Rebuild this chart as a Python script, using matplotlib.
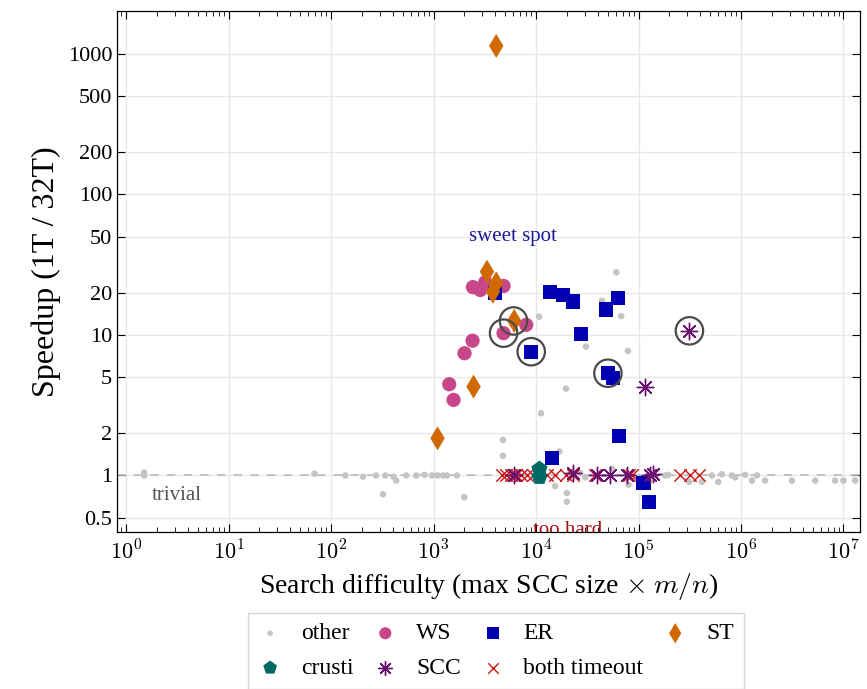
import matplotlib
matplotlib.use("Agg")
import matplotlib.pyplot as plt
import matplotlib.ticker as mticker
import numpy as np

plt.rcParams['font.family'] = ['Liberation Serif', 'DejaVu Serif']
plt.rcParams['mathtext.fontset'] = 'cm'

# ---------------- data ----------------
other_x = [1.5, 1.5, 69, 138, 205, 274, 338, 407, 433, 542, 678, 817, 965, 1094, 1236, 1352, 1692,
           321, 1994, 4750, 4750, 15400, 20000, 20000, 16900,
           60700, 10700, 44000, 67800, 30700, 78800, 19600, 11200,
           30200, 27000, 55000, 80000, 182000, 195000, 312000,
           415000, 520000, 650000, 600000, 815000, 880000, 1.1e6, 1.28e6, 1.43e6, 1.72e6,
           3.14e6, 5.3e6, 8.3e6, 1.0e7, 1.3e7]
other_y = [1.0, 1.05, 1.03, 1.0, 0.98, 1.0, 1.0, 0.98, 0.92, 1.0, 1.0, 1.01, 1.0, 1.0, 1.0, 1.0, 1.0,
           0.735, 0.70, 1.79, 1.38, 0.84, 0.75, 0.65, 1.48,
           27.9, 13.5, 17.5, 13.6, 8.26, 7.69, 4.15, 2.77,
           0.97, 1.04, 1.12, 0.86, 1.0, 1.01, 0.90,
           0.90, 1.0, 1.02, 0.90, 1.0, 0.97, 1.01, 0.92, 1.0, 0.92,
           0.92, 0.92, 0.92, 0.92, 0.92]

ws_x = [2423, 2857, 3194, 4820, 4820, 8020, 2401, 2006, 1422, 1567]
ws_y = [21.9, 20.9, 23.7, 22.3, 10.3, 11.8, 9.1, 7.41, 4.46, 3.45]

er_x = [4000, 13760, 18300, 22900, 48400, 62900, 27400, 8980, 50300, 56300, 64800, 14300, 112000, 126300]
er_y = [19.8, 20.3, 19.3, 17.3, 15.2, 18.4, 10.1, 7.6, 5.34, 4.92, 1.91, 1.33, 0.889, 0.651]

st_x = [4090, 3319, 4090, 3795, 6125, 2456, 1094]
st_y = [1140, 28.2, 23.3, 20.3, 12.6, 4.29, 1.84]

crusti_x = [10800, 10800]
crusti_y = [1.11, 0.975]

scc_x = [314000, 114500, 6130, 23200, 39300, 53000, 77100, 130000, 140000]
scc_y = [10.7, 4.29, 1.0, 1.04, 1.0, 1.0, 1.0, 1.0, 1.02]

both_x = [4680, 5120, 5730, 6410, 7180, 8210, 9390, 12860, 15400, 19700, 23100, 37800,
          81300, 87000, 256000, 320000, 392000]
both_y = [1.0] * len(both_x)

ring_x = [6030, 4820, 8980, 50300, 314000]
ring_y = [12.58, 10.3, 7.6, 5.34, 10.7]

xtick_vals = [1, 10, 100, 1000, 1e4, 1e5, 1e6, 1e7]
xtick_labels = [r'$10^{0}$', r'$10^{1}$', r'$10^{2}$', r'$10^{3}$', r'$10^{4}$', r'$10^{5}$', r'$10^{6}$', r'$10^{7}$']
ytick_vals = [0.5, 1, 2, 5, 10, 20, 50, 100, 200, 500, 1000]
ytick_labels = ['0.5', '1', '2', '5', '10', '20', '50', '100', '200', '500', '1000']

# ---------------- figure ----------------
fig = plt.figure(figsize=(8.67, 6.89), dpi=100)
ax = fig.add_axes([117/867, 1 - 531.7/689, (860-117)/867, (531.7-11)/689])
ax.set_xscale('log')
ax.set_yscale('log')

ax.grid(True, which='major', color='#e8e8e8', lw=1.0, zorder=0)
ax.set_axisbelow(True)

ax.axhline(1.0, color='#bbbbbb', lw=1.2, ls=(0, (5, 5)), zorder=1)

c_other = '#c4c4c4'
c_ws = '#c8478a'
c_er = '#0000b0'
c_st = '#d06a00'
c_crusti = '#006b66'
c_scc = '#6a1070'
c_both = '#cc1111'

h_other = ax.scatter(other_x, other_y, s=22, color=c_other, edgecolors='none', zorder=2, label='other')
h_both = ax.scatter(both_x, both_y, s=80, marker='x', color=c_both, linewidths=1.0, zorder=3, label='both timeout')
h_ws = ax.scatter(ws_x, ws_y, s=105, marker='o', color=c_ws, edgecolors='none', zorder=4, label='WS')
h_er = ax.scatter(er_x, er_y, s=105, marker='s', color=c_er, edgecolors='none', zorder=4, label='ER')
h_st = ax.scatter(st_x, st_y, s=150, marker='d', color=c_st, edgecolors='none', zorder=5, label='ST')
h_crusti = ax.scatter(crusti_x, crusti_y, s=150, marker='p', color=c_crusti, edgecolors='none', zorder=4, label='crusti')
h_scc = ax.scatter(scc_x, scc_y, s=140, marker=(8, 2, 0), color=c_scc, linewidths=1.0, zorder=5, label='SCC')
ax.scatter(ring_x, ring_y, s=390, marker='o', facecolors='none', edgecolors='#4a4a4a', linewidths=1.6, zorder=6)

ax.text(5995, 50.6, 'sweet spot', color='#1a1a9a', fontsize=15, ha='center', va='center')
ax.text(3.09, 0.715, 'trivial', color='#555555', fontsize=15, ha='center', va='center')
ax.text(20200, 0.404, 'too hard', color='#a01010', fontsize=15, ha='center', va='center', clip_on=True)

ax.set_xticks(xtick_vals)
ax.set_xticklabels(xtick_labels)
ax.set_yticks(ytick_vals)
ax.set_yticklabels(ytick_labels)
ax.yaxis.set_minor_locator(mticker.NullLocator())
ax.xaxis.set_minor_locator(mticker.LogLocator(base=10, subs=np.arange(2, 10), numticks=20))
ax.xaxis.set_minor_formatter(mticker.NullFormatter())
ax.set_xlim(0.815, 1.45e7)
ax.set_ylim(0.398, 2020)
ax.tick_params(axis='both', which='major', direction='in', length=6, width=0.8,
               top=True, right=True, labelsize=16, colors='black')
ax.tick_params(axis='x', which='minor', direction='in', length=3.5, width=0.6, top=True)
ax.tick_params(axis='x', which='major', pad=6)
for sp in ax.spines.values():
    sp.set_linewidth(0.9)

ax.set_xlabel(r'Search difficulty (max SCC size $\times$ $m/n$)', fontsize=20, labelpad=5)
ax.set_ylabel('Speedup (1T / 32T)', fontsize=23, labelpad=5)

handles = [h_other, h_crusti, h_ws, h_scc, h_er, h_both, h_st]
labels = [h.get_label() for h in handles]
leg = fig.legend(handles, labels, ncol=4, loc='upper center', bbox_to_anchor=(496/867, 1 - 613/689),
                 fontsize=17, frameon=True, fancybox=False, edgecolor='#cccccc',
                 handlelength=1.0, handletextpad=0.8, columnspacing=0.85, borderpad=0.42,
                 labelspacing=0.55, markerscale=0.85, borderaxespad=0)
leg.get_frame().set_linewidth(1.0)

fig.savefig('out.png', dpi=100)
